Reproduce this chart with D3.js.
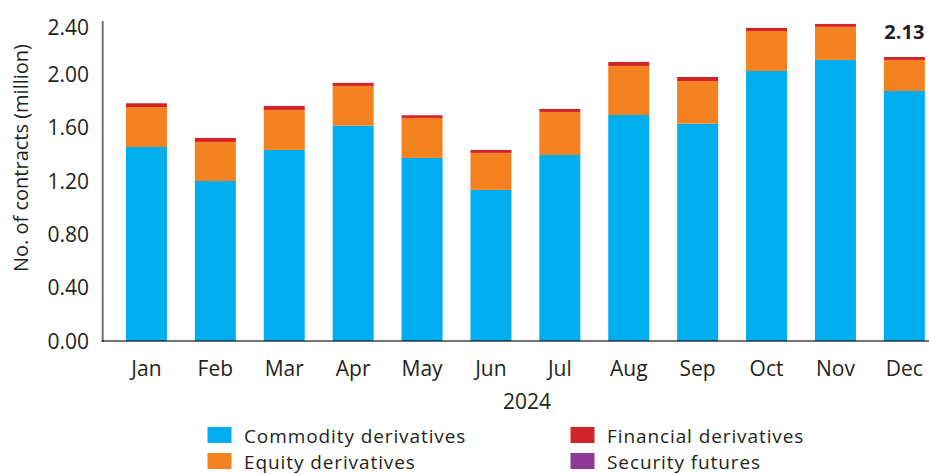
<!DOCTYPE html>
<html>
<head>
<meta charset="utf-8">
<script src="https://cdn.jsdelivr.net/npm/d3@7"></script>
<style>
  html, body { margin: 0; padding: 0; background: #fff; }
  svg { display: block; }
  text { font-family: "Open Sans", "Noto Sans", sans-serif; fill: #231f20; }
</style>
</head>
<body>
<svg id="chart" width="929" height="474"></svg>
<script>
// Monthly derivatives contracts traded, 2024 (million contracts)
const months = ["Jan", "Feb", "Mar", "Apr", "May", "Jun", "Jul", "Aug", "Sep", "Oct", "Nov", "Dec"];
const commodity = [1.455, 1.200, 1.433, 1.615, 1.373, 1.133, 1.395, 1.695, 1.630, 2.025, 2.108, 1.875];
const equity    = [0.300, 0.293, 0.300, 0.298, 0.300, 0.278, 0.323, 0.368, 0.320, 0.300, 0.248, 0.233];
const financial = [0.028, 0.030, 0.030, 0.023, 0.020, 0.022, 0.022, 0.030, 0.030, 0.023, 0.022, 0.022];
const security  = [0, 0, 0, 0, 0, 0, 0, 0, 0, 0, 0, 0];
const yTicks = [0, 0.4, 0.8, 1.2, 1.6, 2.0, 2.4];
const seriesNames = ["Commodity derivatives", "Equity derivatives", "Financial derivatives", "Security futures"];
const annotatedMonth = "Dec";
const xTitle = "2024";
const yTitle = "No. of contracts (million)";

const keys = ["commodity", "equity", "financial", "security"];
const colors = { commodity: "#00aeef", equity: "#f58220", financial: "#d2232a", security: "#8e3b97" };

const rows = months.map((m, i) => ({
  month: m,
  commodity: commodity[i],
  equity: equity[i],
  financial: financial[i],
  security: security[i]
}));

const svg = d3.select("#chart");

const x = d3.scaleBand()
  .domain(months)
  .range([112, 938.8])
  .paddingInner(0.405)
  .paddingOuter(0.2025);

const y = d3.scaleLinear().domain([0, 2.4]).range([341, 21]);

const stacked = d3.stack().keys(keys)(rows);

// stacked bars
svg.append("g")
  .selectAll("g")
  .data(stacked)
  .join("g")
  .attr("fill", d => colors[d.key])
  .selectAll("rect")
  .data(d => d)
  .join("rect")
  .attr("x", d => x(d.data.month))
  .attr("width", x.bandwidth())
  .attr("y", d => y(d[1]))
  .attr("height", d => Math.max(0, y(d[0]) - y(d[1])));

// axis lines
const axisColor = "rgba(0,0,0,0.55)";
svg.append("line")
  .attr("x1", 102.7).attr("x2", 102.7)
  .attr("y1", y(2.4)).attr("y2", y(0) + 1)
  .attr("stroke", axisColor).attr("stroke-width", 2);
svg.append("line")
  .attr("x1", 101.7).attr("x2", 929)
  .attr("y1", y(0)).attr("y2", y(0))
  .attr("stroke", axisColor).attr("stroke-width", 2);

// y tick labels
svg.append("g")
  .selectAll("text")
  .data(yTicks)
  .join("text")
  .attr("x", 89)
  .attr("y", d => y(d) + (d === 2.4 ? 6 : 0))
  .attr("dy", "0.36em")
  .attr("text-anchor", "end")
  .attr("font-size", 21)
  .text(d => d3.format(".2f")(d));

// month labels
svg.append("g")
  .selectAll("text")
  .data(months)
  .join("text")
  .attr("x", d => x(d) + x.bandwidth() / 2)
  .attr("y", 376)
  .attr("text-anchor", "middle")
  .attr("font-size", 21)
  .text(d => d);

// axis titles
svg.append("text")
  .attr("x", 527).attr("y", 409)
  .attr("text-anchor", "middle")
  .attr("font-size", 21)
  .text(xTitle);

svg.append("text")
  .attr("transform", "translate(28,158) rotate(-90)")
  .attr("text-anchor", "middle")
  .attr("font-size", 20)
  .text(yTitle);

// total label above the annotated month
const lastIdx = months.indexOf(annotatedMonth);
const total = stacked[stacked.length - 1][lastIdx][1];
svg.append("text")
  .attr("x", x(annotatedMonth) + x.bandwidth() / 2)
  .attr("y", y(total) - 18)
  .attr("text-anchor", "middle")
  .attr("font-size", 20)
  .attr("font-weight", "bold")
  .text(d3.format(".2f")(total));

// legend (two columns, two rows)
const legendPos = [
  { x: 207.5, y: 427 },
  { x: 207.5, y: 453 },
  { x: 570.5, y: 427 },
  { x: 570.5, y: 453 }
];
const legend = svg.append("g")
  .selectAll("g")
  .data(keys)
  .join("g")
  .attr("transform", (d, i) => `translate(${legendPos[i].x},${legendPos[i].y})`);
legend.append("rect")
  .attr("width", 24).attr("height", 16)
  .attr("fill", d => colors[d]);
legend.append("text")
  .attr("x", 36.5).attr("y", 15.5)
  .attr("font-size", 19)
  .attr("letter-spacing", 0.9)
  .text((d, i) => seriesNames[i]);
</script>
</body>
</html>
